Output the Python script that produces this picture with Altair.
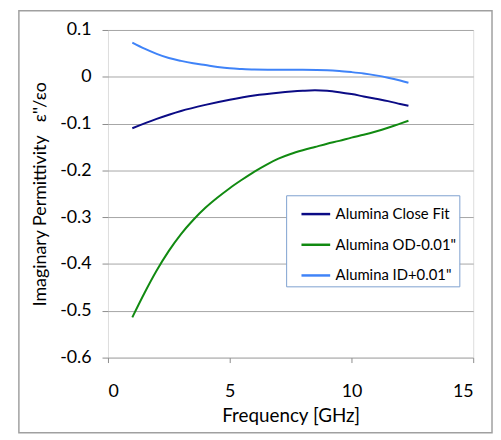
import altair as alt
import pandas as pd

series_names = ["Alumina Close Fit", "Alumina OD-0.01\"", "Alumina ID+0.01\""]
series_colors = ["#0B0B85", "#118A11", "#3F83F8"]

close_f = [1.0, 2.0, 3.0, 4.0, 5.0, 6.0, 7.0, 8.0, 8.5, 9.0, 9.5, 10.0, 10.5, 11.0, 11.5, 12.0, 12.34]
close_v = [-0.110, -0.090, -0.073, -0.060, -0.049, -0.040, -0.034, -0.030, -0.029, -0.030, -0.033, -0.037, -0.042, -0.047, -0.052, -0.058, -0.062]

od_f = [1.0, 1.5, 2.0, 2.5, 3.0, 3.5, 4.0, 4.5, 5.0, 5.5, 6.0, 6.5, 7.0, 7.5, 8.0, 8.5, 9.0, 9.5, 10.0, 10.5, 11.0, 11.5, 12.0, 12.34]
od_v = [-0.514, -0.462, -0.414, -0.372, -0.336, -0.306, -0.280, -0.258, -0.238, -0.220, -0.203, -0.188, -0.175, -0.165, -0.157, -0.150, -0.143, -0.137, -0.130, -0.124, -0.117, -0.109, -0.100, -0.094]

id_f = [1.0, 1.5, 2.0, 2.5, 3.0, 3.5, 4.0, 4.5, 5.0, 5.5, 6.0, 7.0, 8.0, 9.0, 9.5, 10.0, 10.5, 11.0, 11.5, 12.0, 12.34]
id_v = [0.073, 0.060, 0.049, 0.040, 0.034, 0.029, 0.025, 0.021, 0.018, 0.0165, 0.0155, 0.015, 0.0148, 0.014, 0.0125, 0.010, 0.007, 0.003, -0.002, -0.008, -0.0126]

x_ticks = [0, 5, 10, 15]
y_ticks = [-0.6, -0.5, -0.4, -0.3, -0.2, -0.1, 0.0, 0.1]

rows = []
for name, fs, vs in [(series_names[0], close_f, close_v),
                     (series_names[1], od_f, od_v),
                     (series_names[2], id_f, id_v)]:
    for i, (f, v) in enumerate(zip(fs, vs)):
        rows.append({"series": name, "freq": f, "eps": v, "order": i})
df = pd.DataFrame(rows)

FONT = "Lato"

lines = alt.Chart(df).mark_line(strokeWidth=2, interpolate="monotone").encode(
    x=alt.X("freq:Q", scale=alt.Scale(domain=[0, 15], nice=False),
            axis=alt.Axis(values=x_ticks, title="Frequency [GHz]", grid=False,
                          domain=False, tickColor="#8c8c8c", tickSize=5,
                          labelPadding=20, labelFontSize=18, labelColor="#000",
                          titleFontSize=19, titleFontWeight="normal", titleColor="#000",
                          titlePadding=7, labelFont=FONT, titleFont=FONT)),
    y=alt.Y("eps:Q", scale=alt.Scale(domain=[-0.6, 0.1], nice=False, zero=False),
            axis=alt.Axis(values=y_ticks,
                          title="Imaginary Permittivity \u00a0\u00a0\u03b5''/\u03b5o",
                          grid=True, gridColor="#a6a6a6", gridWidth=1,
                          domain=False, tickColor="#8c8c8c", tickSize=6,
                          labelPadding=11, labelFontSize=18, labelColor="#000",
                          labelExpr="datum.value == 0 ? '0' : toString(round(datum.value*10)/10)",
                          titleFontSize=18, titleFontWeight="normal", titleColor="#000",
                          titlePadding=10, labelFont=FONT, titleFont=FONT)),
    color=alt.Color("series:N", scale=alt.Scale(domain=series_names, range=series_colors),
                    sort=series_names,
                    legend=alt.Legend(title=None, orient="none", legendX=180, legendY=167,
                                      symbolType="stroke", symbolSize=841, symbolStrokeWidth=2.5,
                                      labelFontSize=15, labelFont=FONT, labelColor="#000",
                                      padding=3, rowPadding=7, symbolOffset=11, labelOffset=4,
                                      fillColor="white", strokeColor="#7ea1cf")),
    order="order:Q",
)

frame = alt.Chart(alt.Data(values=[{"k": 1}])).mark_rect(
    fill=None, stroke="#a0a0a0", strokeWidth=1.5
).encode(
    x=alt.value(-90), x2=alt.value(388), y=alt.value(-19.5), y2=alt.value(407)
)

chart = alt.layer(frame, lines).properties(
    width=369, height=331,
    autosize=alt.AutoSizeParams(type="none"),
    padding={"left": 101, "top": 20, "right": 20, "bottom": 77},
).configure_view(
    stroke="#7094c8", strokeWidth=2
).configure(background="white")

chart.save("out.html", embed_options={"renderer": "svg", "actions": False})
